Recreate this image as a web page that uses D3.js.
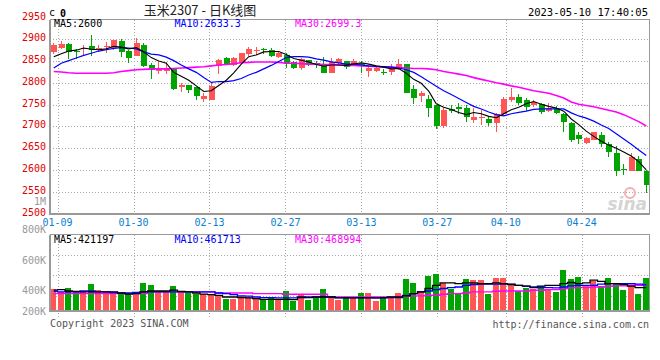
<!DOCTYPE html>
<html><head><meta charset="utf-8">
<script src="https://cdn.jsdelivr.net/npm/d3@7"></script>
<style>
body{margin:0;background:#fff}
svg{display:block}
text{font-family:"DejaVu Sans Mono",monospace;font-size:10px}
</style>
</head><body>
<svg id="c" width="660" height="360"></svg>
<script>
// ---------------- data ----------------
const dates = ["01-06","01-09","01-10","01-11","01-12","01-13","01-16","01-17","01-18","01-19","01-20","01-30","01-31","02-01","02-02","02-03","02-06","02-07","02-08","02-09","02-10","02-13","02-14","02-15","02-16","02-17","02-20","02-21","02-22","02-23","02-24","02-27","02-28","03-01","03-02","03-03","03-06","03-07","03-08","03-09","03-10","03-13","03-14","03-15","03-16","03-17","03-20","03-21","03-22","03-23","03-24","03-27","03-28","03-29","03-30","03-31","04-03","04-04","04-06","04-07","04-10","04-11","04-12","04-13","04-14","04-17","04-18","04-19","04-20","04-21","04-24","04-25","04-26","04-27","04-28","05-04","05-05","05-08","05-09","05-10"];
const open = [2871,2881,2889,2873,2880,2885,2879,2883,2881,2896,2873,2862,2887,2841,2828,2828,2833,2791,2795,2790,2763,2760,2839,2858,2841,2845,2866,2873,2877,2875,2860,2864,2848,2834,2852,2846,2842,2823,2845,2850,2844,2845,2828,2828,2826,2826,2832,2843,2786,2770,2763,2749,2702,2740,2745,2743,2715,2719,2717,2707,2728,2760,2768,2760,2749,2751,2735,2740,2728,2707,2680,2663,2669,2680,2659,2640,2602,2598,2625,2598];
const high = [2891,2896,2892,2877,2887,2910,2888,2893,2899,2900,2875,2904,2891,2846,2847,2847,2833,2799,2795,2790,2776,2803,2854,2859,2859,2869,2882,2883,2881,2881,2873,2868,2851,2857,2853,2851,2859,2858,2858,2851,2855,2850,2841,2838,2832,2844,2855,2844,2796,2781,2772,2749,2742,2749,2753,2749,2742,2738,2722,2730,2768,2787,2774,2766,2760,2753,2753,2747,2730,2709,2688,2676,2688,2688,2665,2656,2614,2638,2633,2600];
const low = [2866,2878,2855,2855,2864,2862,2871,2869,2875,2860,2846,2861,2836,2809,2820,2820,2784,2780,2776,2760,2757,2760,2820,2841,2839,2843,2862,2864,2866,2860,2856,2833,2831,2830,2839,2834,2822,2822,2841,2832,2841,2822,2814,2825,2819,2818,2829,2776,2752,2757,2722,2695,2697,2730,2728,2711,2707,2703,2701,2688,2726,2757,2749,2735,2745,2728,2732,2728,2688,2665,2659,2659,2669,2653,2630,2587,2588,2598,2598,2546];
const close = [2887,2889,2871,2871,2881,2875,2880,2885,2898,2871,2858,2891,2839,2829,2833,2835,2785,2794,2783,2770,2770,2793,2852,2843,2858,2868,2878,2875,2875,2862,2868,2843,2834,2854,2841,2840,2823,2847,2855,2837,2851,2838,2835,2834,2823,2831,2844,2777,2765,2776,2743,2700,2738,2736,2741,2722,2722,2722,2707,2728,2764,2768,2754,2744,2757,2734,2743,2731,2709,2669,2670,2674,2686,2659,2642,2598,2600,2630,2598,2565];
const ma5 = [2860,2867,2873,2875,2880,2877,2876,2878,2884,2882,2878,2881,2871,2858,2850,2845,2824,2815,2806,2793,2780,2782,2794,2806,2823,2843,2860,2864,2871,2872,2872,2865,2856,2852,2848,2842,2838,2841,2841,2840,2843,2846,2843,2839,2836,2832,2833,2822,2808,2799,2781,2752,2744,2739,2732,2727,2732,2729,2723,2720,2729,2738,2744,2752,2757,2751,2746,2742,2735,2717,2704,2689,2677,2666,2657,2650,2641,2632,2619,2600];
const ma10 = [2834,2845,2851,2857,2863,2868,2873,2876,2879,2881,2880,2878,2871,2866,2864,2859,2851,2841,2832,2824,2812,2801,2803,2803,2805,2810,2818,2824,2832,2840,2849,2858,2860,2860,2859,2855,2852,2848,2846,2843,2843,2841,2839,2838,2837,2836,2834,2830,2824,2814,2803,2792,2782,2773,2764,2755,2746,2740,2733,2727,2724,2729,2732,2735,2739,2740,2740,2740,2740,2731,2724,2719,2712,2703,2695,2683,2671,2659,2646,2633];
const ma30 = [2826,2825,2823,2822,2822,2822,2822,2822,2823,2826,2828,2830,2831,2832,2832,2832,2833,2834,2835,2836,2837,2839,2841,2842,2844,2846,2847,2848,2848,2848,2847,2845,2845,2844,2843,2843,2842,2842,2841,2840,2840,2839,2838,2837,2836,2836,2835,2834,2833,2833,2832,2830,2826,2823,2820,2817,2812,2808,2804,2800,2797,2793,2790,2786,2782,2779,2776,2771,2765,2756,2751,2748,2745,2741,2737,2733,2727,2719,2711,2701];
const volume = [411000,394000,420000,394000,394000,444000,405000,394000,387000,383000,379000,383000,453000,437000,398000,400000,431000,394000,387000,379000,383000,376000,372000,346000,346000,368000,361000,355000,346000,361000,346000,398000,333000,372000,340000,355000,411000,361000,340000,361000,361000,387000,387000,333000,361000,361000,387000,476000,453000,400000,498000,509000,455000,416000,379000,476000,470000,470000,379000,485000,485000,444000,400000,420000,411000,431000,411000,394000,535000,476000,492000,437000,463000,431000,485000,455000,405000,442000,383000,485000];
const volMa5 = [405000,409000,400000,398000,394000,394000,394000,394000,394000,387000,379000,383000,394000,400000,400000,400000,405000,398000,394000,387000,379000,376000,372000,361000,361000,357000,355000,350000,346000,346000,346000,346000,344000,361000,357000,361000,361000,361000,355000,355000,355000,355000,355000,355000,357000,361000,361000,368000,383000,394000,416000,437000,453000,453000,448000,453000,453000,448000,448000,453000,448000,442000,437000,431000,422000,431000,437000,437000,448000,455000,448000,453000,470000,463000,448000,448000,442000,431000,422000,421197];
const volMa10 = [398000,394000,394000,394000,400000,400000,394000,394000,390000,387000,387000,390000,394000,394000,394000,394000,394000,394000,394000,394000,394000,394000,387000,383000,376000,368000,366000,361000,357000,357000,355000,355000,355000,357000,361000,361000,361000,361000,357000,357000,357000,357000,357000,355000,355000,357000,357000,372000,383000,394000,400000,409000,416000,422000,426000,437000,442000,444000,444000,444000,444000,444000,437000,431000,426000,422000,422000,420000,426000,433000,437000,437000,437000,444000,448000,448000,448000,448000,444000,440000];
const volMa30 = [383000,383000,383000,383000,383000,383000,383000,383000,383000,383000,383000,383000,383000,394000,394000,394000,394000,394000,394000,394000,394000,394000,387000,387000,387000,387000,387000,383000,383000,383000,383000,379000,379000,379000,379000,379000,379000,361000,361000,361000,361000,361000,361000,361000,361000,361000,361000,366000,368000,368000,372000,372000,379000,383000,383000,387000,394000,394000,394000,398000,400000,400000,400000,400000,405000,405000,409000,409000,416000,420000,422000,422000,426000,426000,431000,433000,433000,437000,437000,437000];
const priceTicks = [2500,2550,2600,2650,2700,2750,2800,2850,2900,2950];
const volTicks = [200000,400000,600000,800000];
const dateTicks = ["01-09","01-30","02-13","02-27","03-13","03-27","04-10","04-24"];
const legendPrice = [["MA5:2600","#000"],["MA10:2633.3","#0000ff"],["MA30:2699.3","#ff00ff"]];
const legendVol = [["MA5:421197","#000"],["MA10:461713","#0000ff"],["MA30:468994","#ff00ff"]];

// ---------------- layout ----------------
const svg = d3.select("#c");
const L = 50, R = 650;
const pTop = 19.5, pBot = 213.5;
const vTop = 234.5, vBase = 311, vBot = 319;
const UP = "#ff5555", DOWN = "#00a400", GRID = "#a8a8a8", AX = "#999";

const x = d3.scaleBand().domain(dates).range([L, R]);
const bw = x.bandwidth();
const cx = d => x(d) + bw / 2;
const xg = d3.scaleLinear().domain([0, dates.length - 1]).range([L, R]);
const y = d3.scaleLinear().domain([2500, 2950]).range([213.5, 17.5]);
const yv = d3.scaleLinear().domain([270000, 770000]).range([vBase, 234]);

const idx = d3.range(dates.length);

// header
svg.append("text").attr("x", 49).attr("y", 16).attr("font-size", 12).text("c");
svg.append("text").attr("x", 60).attr("y", 16.5).attr("font-size", 13).attr("font-weight", "bold").text("0");
svg.append("text").attr("x", 200).attr("y", 15).attr("text-anchor", "middle")
  .style("font-family", '"Noto Sans CJK SC",sans-serif').style("font-size", "13px").attr("fill", "#222")
  .text("玉米2307 - 日K线图");
svg.append("text").attr("x", 648).attr("y", 16).attr("text-anchor", "end").attr("fill", "#000")
  .style("font-size", "10.5px").text("2023-05-10 17:40:05");

// ---------------- price panel grid ----------------
const gGrid = svg.append("g").attr("shape-rendering", "crispEdges");
gGrid.selectAll("line.h").data(priceTicks.filter(t => t > 2500 && t < 2950)).join("line")
  .attr("x1", L).attr("x2", R).attr("y1", d => Math.round(y(d)) + 0.5).attr("y2", d => Math.round(y(d)) + 0.5)
  .attr("stroke", GRID).attr("stroke-dasharray", "1,2");
gGrid.selectAll("line.v").data(dateTicks).join("line")
  .attr("x1", d => Math.round(xg(dates.indexOf(d))) + 0.5).attr("x2", d => Math.round(xg(dates.indexOf(d))) + 0.5)
  .attr("y1", pTop).attr("y2", pBot).attr("stroke", GRID).attr("stroke-dasharray", "1,2");

// volume panel grid
const vGridY = [1, 2, 3].map(k => vTop + (316 - vTop) * k / 4);
gGrid.selectAll("line.vh").data(vGridY).join("line")
  .attr("x1", L).attr("x2", R).attr("y1", d => Math.round(d) + 0.5).attr("y2", d => Math.round(d) + 0.5)
  .attr("stroke", GRID).attr("stroke-dasharray", "1,2");
gGrid.selectAll("line.vv").data(dateTicks).join("line")
  .attr("x1", d => Math.round(xg(dates.indexOf(d))) + 0.5).attr("x2", d => Math.round(xg(dates.indexOf(d))) + 0.5)
  .attr("y1", vTop).attr("y2", vBot).attr("stroke", GRID).attr("stroke-dasharray", "1,2");

// ---------------- candles ----------------
const gC = svg.append("g").attr("shape-rendering", "crispEdges");
const col = i => close[i] >= open[i] ? UP : DOWN;
gC.selectAll("line.w").data(idx).join("line")
  .attr("x1", i => Math.floor(cx(dates[i])) + 0.5).attr("x2", i => Math.floor(cx(dates[i])) + 0.5)
  .attr("y1", i => y(high[i])).attr("y2", i => y(low[i])).attr("stroke", col);
gC.selectAll("rect.b").data(idx).join("rect")
  .attr("x", i => Math.floor(cx(dates[i])) - 2.5 + 0.5 - 0.5)
  .attr("width", 6)
  .attr("y", i => y(Math.max(open[i], close[i])))
  .attr("height", i => Math.max(1, Math.abs(y(open[i]) - y(close[i]))))
  .attr("fill", col);

// MA lines price
const lineP = arr => d3.line().x((d, i) => cx(dates[i])).y(d => y(d))(arr);
svg.append("path").attr("d", lineP(ma30)).attr("fill", "none").attr("stroke", "#ff00ff").attr("stroke-width", 1.6);
svg.append("path").attr("d", lineP(ma10)).attr("fill", "none").attr("stroke", "#0000ff").attr("stroke-width", 1.2);
svg.append("path").attr("d", lineP(ma5)).attr("fill", "none").attr("stroke", "#000").attr("stroke-width", 1.1);

// ---------------- volume ----------------
const gV = svg.append("g").attr("shape-rendering", "crispEdges");
gV.selectAll("rect").data(idx).join("rect")
  .attr("x", i => Math.floor(cx(dates[i])) - 3)
  .attr("width", 6)
  .attr("y", i => yv(volume[i]))
  .attr("height", i => vBase - yv(volume[i]))
  .attr("fill", col);
const lineV = arr => d3.line().curve(d3.curveStep).x((d, i) => cx(dates[i])).y(d => yv(d))(arr);
svg.append("path").attr("d", lineV(volMa30)).attr("fill", "none").attr("stroke", "#ff00ff").attr("stroke-width", 1.4);
svg.append("path").attr("d", lineV(volMa10)).attr("fill", "none").attr("stroke", "#0000ff").attr("stroke-width", 1.3);
svg.append("path").attr("d", lineV(volMa5)).attr("fill", "none").attr("stroke", "#000").attr("stroke-width", 1.3);

// ---------------- frames ----------------
const gF = svg.append("g").attr("shape-rendering", "crispEdges").attr("fill", "none");
gF.append("path").attr("d", `M${L},${pTop}H${R - 0.5}V${pBot}`).attr("stroke", AX);
gF.append("path").attr("d", `M${L},${pTop}V${pBot}H${R}`).attr("stroke", AX).attr("stroke-width", 2);
gF.append("path").attr("d", `M${L},${vTop}H${R - 0.5}V${vBase}`).attr("stroke", AX);
gF.append("path").attr("d", `M${L},${vTop}V${vBase}H${R}`).attr("stroke", AX).attr("stroke-width", 2);

// ---------------- axis labels ----------------
svg.selectAll("text.py").data(priceTicks).join("text")
  .attr("x", 46).attr("y", d => y(d) + 2).attr("text-anchor", "end").attr("fill", "#e00000").text(d => d);
svg.append("text").attr("x", 46).attr("y", 204.5).attr("text-anchor", "end").attr("fill", "#999").text("1M");
svg.selectAll("text.dx").data(dateTicks).join("text")
  .attr("x", d => xg(dates.indexOf(d))).attr("y", 225.5).attr("text-anchor", "middle").attr("fill", "#0a80d0").text(d => d);
svg.selectAll("text.vy").data(volTicks).join("text")
  .attr("x", 46).attr("y", d => Math.min(vBase, yv(d)) + 3.5).attr("text-anchor", "end").attr("fill", "#999")
  .text(d => (d / 1000) + "K");

// legends
const legX = [54, 174.5, 295];
svg.selectAll("text.lp").data(legendPrice).join("text")
  .attr("x", (d, i) => legX[i]).attr("y", 27).attr("fill", d => d[1]).text(d => d[0]);
svg.selectAll("text.lv").data(legendVol).join("text")
  .attr("x", (d, i) => legX[i]).attr("y", 242.5).attr("fill", d => d[1]).text(d => d[0]);

// footer
svg.append("text").attr("x", 50).attr("y", 327).attr("fill", "#555").text("Copyright 2023 SINA.COM");
svg.append("text").attr("x", 649).attr("y", 327.5).attr("text-anchor", "end").attr("fill", "#555").text("http://finance.sina.com.cn");

// watermark
svg.append("circle").attr("cx", 630).attr("cy", 193).attr("r", 5).attr("fill", "none").attr("stroke", "#f3b0b0").attr("stroke-width", 2);
svg.append("text").attr("x", 647).attr("y", 210).attr("text-anchor", "end")
  .style("font-family", "DejaVu Sans,sans-serif").style("font-size", "17px").style("font-style", "italic").style("font-weight", "bold")
  .attr("fill", "#d4d4d4").text("sina");
</script>
</body></html>
